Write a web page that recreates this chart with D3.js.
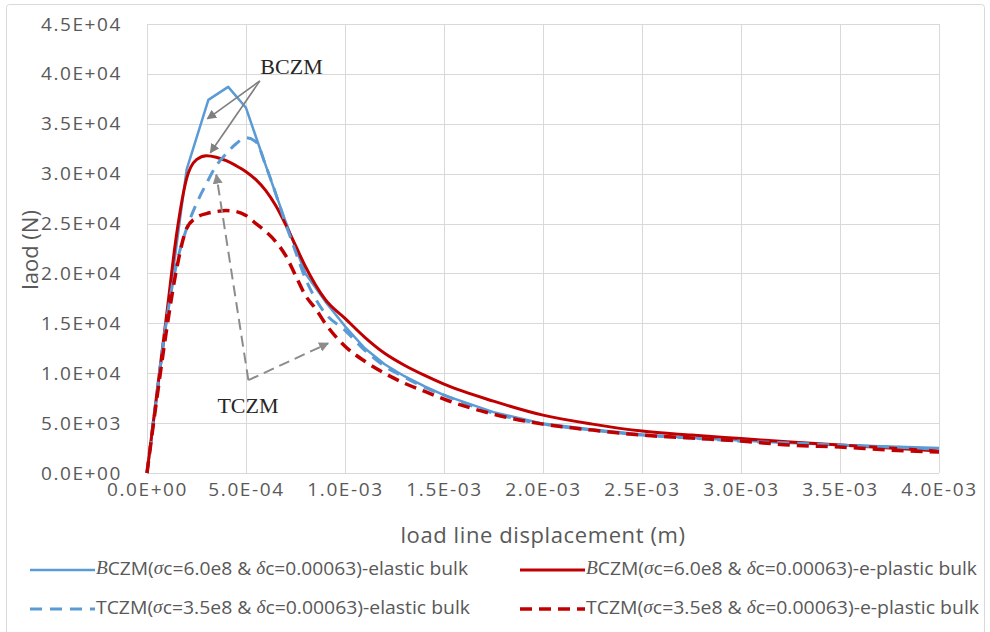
<!DOCTYPE html>
<html>
<head>
<meta charset="utf-8">
<script src="https://cdn.jsdelivr.net/npm/d3@7"></script>
<style>
  html, body { margin: 0; padding: 0; background: #fff; }
  svg { display: block; }
</style>
</head>
<body>
<svg id="chart" width="990" height="632"></svg>
<script>
// ---------------- data ----------------
const xTicks = [0, 5e-4, 1e-3, 1.5e-3, 2e-3, 2.5e-3, 3e-3, 3.5e-3, 4e-3];
const yTicks = [0, 5000, 10000, 15000, 20000, 25000, 30000, 35000, 40000, 45000];

// displacement (m) for the BCZM elastic curve (coarser, polygonal)
const xBE = [0, 1.0e-4, 2.0e-4, 3.1e-4, 4.1e-4, 5.0e-4, 6.0e-4, 7.0e-4, 8.0e-4, 9.0e-4, 1.0e-3,
  1.1e-3, 1.2e-3, 1.3e-3, 1.4e-3, 1.5e-3, 1.75e-3, 2.0e-3, 2.25e-3, 2.5e-3, 2.75e-3,
  3.0e-3, 3.25e-3, 3.5e-3, 3.75e-3, 4.0e-3];
const yBE = [0, 15500, 30400, 37400, 38700, 36600, 30800, 25200, 20000, 17200, 14700,
  12500, 10900, 9700, 8700, 7800, 6100, 4950, 4350, 3850, 3500,
  3250, 3000, 2800, 2650, 2500];

// displacement (m) shared by the other three curves
const xS = [0, 0.5e-4, 1.0e-4, 1.5e-4, 2.0e-4, 2.5e-4, 3.0e-4, 3.5e-4, 4.0e-4, 4.5e-4, 5.0e-4,
  5.5e-4, 6.0e-4, 6.5e-4, 7.0e-4, 7.5e-4, 8.0e-4, 8.5e-4, 9.0e-4, 1.0e-3, 1.1e-3, 1.2e-3,
  1.3e-3, 1.4e-3, 1.5e-3, 1.75e-3, 2.0e-3, 2.25e-3, 2.5e-3, 2.75e-3, 3.0e-3, 3.25e-3,
  3.5e-3, 3.75e-3, 4.0e-3];
const yBP = [0, 8000, 16000, 24000, 29500, 31400, 31800, 31650, 31300, 30800, 30200,
  29400, 28300, 26800, 24900, 22800, 20700, 18900, 17400, 15500, 13600, 12000,
  10800, 9800, 8900, 7200, 5800, 4900, 4200, 3800, 3450, 3100,
  2800, 2500, 2200];
const yTE = [0, 8000, 15500, 21000, 24500, 27000, 29000, 30800, 32000, 33000, 33600,
  33200, 30800, 28000, 25000, 22200, 19500, 17500, 16000, 14300, 12300, 10700,
  9600, 8600, 7800, 6000, 4900, 4300, 3800, 3500, 3200, 3000,
  2800, 2600, 2400];
const yTP = [0, 7500, 14500, 20500, 24500, 25600, 26000, 26200, 26300, 26200, 25800,
  25000, 24200, 23200, 21800, 19800, 17800, 16500, 15000, 12700, 11200, 10000,
  9000, 8200, 7400, 5900, 4900, 4300, 3800, 3500, 3200, 2800,
  2600, 2300, 2100];

const seriesNames = [
  "BCZM elastic", "BCZM e-plastic", "TCZM elastic", "TCZM e-plastic"
];

// annotation anchors in data units
const bczmLabel = [7.3e-4, 40000];
const bczmFrom = [5.7e-4, 39300];
const bczmTips = [[3.05e-4, 35500], [3.2e-4, 32100]];
const tczmLabel = [5.1e-4, 6000];
const tczmCorner = [5.12e-4, 9300];
const tczmTips = [[3.5e-4, 29900], [9.15e-4, 13000]];

// ---------------- drawing ----------------
const svg = d3.select("#chart");
const plotL = 147, plotR = 939, plotT = 24, plotB = 473;

const x = d3.scaleLinear().domain([0, 4e-3]).range([plotL, plotR]);
const y = d3.scaleLinear().domain([0, 45000]).range([plotB, plotT]);

const FONT = "'Open Sans', 'Noto Sans', sans-serif";
const SERIF = "'Liberation Serif', 'DejaVu Serif', serif";
const GRAY = "#595959";

// outer chart frame
svg.append("rect")
  .attr("x", 6.5).attr("y", 4.5).attr("width", 978).attr("height", 640)
  .attr("rx", 3)
  .attr("fill", "#fff").attr("stroke", "#d9d9d9").attr("stroke-width", 1);

// gridlines
const grid = svg.append("g");
grid.selectAll(".hg").data(yTicks).join("line")
  .attr("x1", plotL).attr("x2", plotR)
  .attr("y1", d => Math.round(y(d)) + 0.5).attr("y2", d => Math.round(y(d)) + 0.5)
  .attr("stroke", "#d9d9d9").attr("stroke-width", 1);
grid.selectAll(".vg").data(xTicks).join("line")
  .attr("x1", d => Math.round(x(d)) + 0.5).attr("x2", d => Math.round(x(d)) + 0.5)
  .attr("y1", plotT).attr("y2", plotB)
  .attr("stroke", "#d9d9d9").attr("stroke-width", 1);

function sci(v) {
  const s = v.toExponential(1);
  const [m, e] = s.split("e");
  const sign = e[0] === "-" ? "-" : "+";
  const digits = e.replace(/[+-]/, "").padStart(2, "0");
  return m + "E" + sign + digits;
}

// axes via d3 axis generators (no domain line, no tick marks)
const yAxis = d3.axisLeft(y).tickValues(yTicks).tickFormat(sci).tickSize(0).tickPadding(0);
const gy = svg.append("g").attr("transform", `translate(${plotL - 25},0)`).call(yAxis);
gy.select(".domain").remove();
gy.selectAll("text")
  .attr("font-family", FONT).attr("font-size", 19).attr("fill", GRAY)
  .attr("letter-spacing", 1.6);

const xAxis = d3.axisBottom(x).tickValues(xTicks).tickFormat(sci).tickSize(0).tickPadding(0);
const gx = svg.append("g").attr("transform", `translate(0,${plotB + 9})`).call(xAxis);
gx.select(".domain").remove();
gx.selectAll("text")
  .attr("font-family", FONT).attr("font-size", 19).attr("fill", GRAY)
  .attr("letter-spacing", 1.6);

// axis titles
svg.append("text")
  .attr("transform", `translate(32,250) rotate(-90)`)
  .attr("text-anchor", "middle").attr("dominant-baseline", "middle")
  .attr("font-family", FONT).attr("font-size", 22).attr("fill", GRAY)
  .text("laod (N)");
svg.append("text")
  .attr("x", 543).attr("y", 537)
  .attr("text-anchor", "middle").attr("dominant-baseline", "middle")
  .attr("font-family", FONT).attr("font-size", 22).attr("fill", GRAY)
  .attr("letter-spacing", 0.6)
  .text("load line displacement (m)");

// series
const BLUE = "#5B9BD5", RED = "#C00000";
const styles = [
  { color: BLUE, width: 2.5, dash: null },
  { color: RED, width: 3, dash: null },
  { color: BLUE, width: 3, dash: "12,8" },
  { color: RED, width: 3.5, dash: "12,7" }
];
const seriesData = [
  xBE.map((d, i) => [d, yBE[i]]),
  xS.map((d, i) => [d, yBP[i]]),
  xS.map((d, i) => [d, yTE[i]]),
  xS.map((d, i) => [d, yTP[i]])
];
const line = d3.line().x(d => x(d[0])).y(d => y(d[1])).curve(d3.curveMonotoneX);
const lineLin = d3.line().x(d => x(d[0])).y(d => y(d[1])).curve(d3.curveLinear);

const plot = svg.append("g");
seriesData.forEach((data, i) => {
  plot.append("path")
    .datum(data)
    .attr("d", i === 0 ? lineLin : line)
    .attr("fill", "none")
    .attr("stroke", styles[i].color)
    .attr("stroke-width", styles[i].width)
    .attr("stroke-dasharray", styles[i].dash)
    .attr("stroke-linejoin", "round")
    .attr("data-name", seriesNames[i]);
});

// arrow markers
const defs = svg.append("defs");
defs.append("marker")
  .attr("id", "arrS").attr("viewBox", "0 0 10 10").attr("refX", 9).attr("refY", 5)
  .attr("markerWidth", 6).attr("markerHeight", 6).attr("markerUnits", "strokeWidth")
  .attr("orient", "auto")
  .append("path").attr("d", "M0,0 L10,5 L0,10 z").attr("fill", "#7f7f7f");
defs.append("marker")
  .attr("id", "arrD").attr("viewBox", "0 0 10 10").attr("refX", 9).attr("refY", 5)
  .attr("markerWidth", 5).attr("markerHeight", 5).attr("markerUnits", "strokeWidth")
  .attr("orient", "auto")
  .append("path").attr("d", "M0,0 L10,5 L0,10 z").attr("fill", "#8c8c8c");

// BCZM annotation
const ann = svg.append("g");
bczmTips.forEach(t => {
  ann.append("line")
    .attr("x1", x(bczmFrom[0])).attr("y1", y(bczmFrom[1]))
    .attr("x2", x(t[0])).attr("y2", y(t[1]))
    .attr("stroke", "#7f7f7f").attr("stroke-width", 1.6)
    .attr("marker-end", "url(#arrS)");
});
ann.append("text")
  .attr("x", x(bczmLabel[0])).attr("y", y(bczmLabel[1]))
  .attr("text-anchor", "middle")
  .attr("font-family", SERIF)
  .attr("font-size", 22).attr("fill", "#262626")
  .text("BCZM");

// TCZM annotation
tczmTips.forEach(t => {
  ann.append("line")
    .attr("x1", x(tczmCorner[0])).attr("y1", y(tczmCorner[1]))
    .attr("x2", x(t[0])).attr("y2", y(t[1]))
    .attr("stroke", "#8c8c8c").attr("stroke-width", 2)
    .attr("stroke-dasharray", "11,6")
    .attr("marker-end", "url(#arrD)");
});
ann.append("text")
  .attr("x", x(tczmLabel[0])).attr("y", y(tczmLabel[1]))
  .attr("text-anchor", "middle")
  .attr("font-family", SERIF)
  .attr("font-size", 22).attr("fill", "#262626")
  .text("TCZM");

// legend
const legendItems = [
  { s: 0, lx: 30, ly: 570, prefix: "B", italicPrefix: true, rest: "CZM(", sig: "6.0e8", tail: "-elastic bulk", len: 372 },
  { s: 1, lx: 520, ly: 570, prefix: "B", italicPrefix: true, rest: "CZM(", sig: "6.0e8", tail: "-e-plastic bulk", len: 391 },
  { s: 2, lx: 30, ly: 609, prefix: "T", italicPrefix: false, rest: "CZM(", sig: "3.5e8", tail: "-elastic bulk", len: 374 },
  { s: 3, lx: 520, ly: 609, prefix: "T", italicPrefix: false, rest: "CZM(", sig: "3.5e8", tail: "-e-plastic bulk", len: 393 }
];
const lg = svg.append("g");
legendItems.forEach(it => {
  const st = styles[it.s];
  lg.append("line")
    .attr("x1", it.lx).attr("x2", it.lx + 65)
    .attr("y1", it.ly).attr("y2", it.ly)
    .attr("stroke", st.color).attr("stroke-width", st.width)
    .attr("stroke-dasharray", st.dash);
  const t = lg.append("text")
    .attr("x", it.lx + 66).attr("y", it.ly)
    .attr("dominant-baseline", "middle")
    .attr("font-family", FONT).attr("font-size", 18).attr("fill", GRAY)
    .attr("textLength", it.len).attr("lengthAdjust", "spacingAndGlyphs");
  if (it.italicPrefix) {
    t.append("tspan").attr("font-family", SERIF).attr("font-style", "italic").text(it.prefix);
  } else {
    t.append("tspan").text(it.prefix);
  }
  t.append("tspan").text(it.rest);
  t.append("tspan").attr("font-family", SERIF).attr("font-style", "italic").text("σ");
  t.append("tspan").text("c=" + it.sig + " & ");
  t.append("tspan").attr("font-family", SERIF).attr("font-style", "italic").text("δ");
  t.append("tspan").text("c=0.00063)" + it.tail);
});
</script>
</body>
</html>
